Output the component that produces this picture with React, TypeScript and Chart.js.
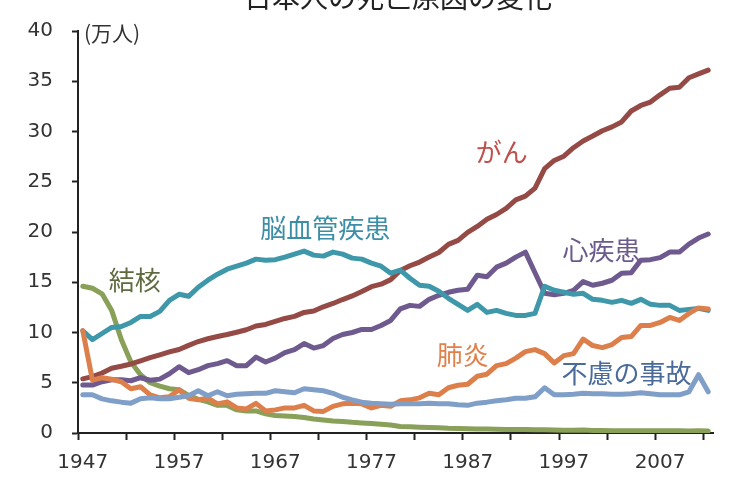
import React, { useEffect, useRef } from "react";
import { Chart, registerables } from "chart.js";

Chart.register(...registerables);

const years: string[] = [
  "1947", "1948", "1949", "1950", "1951", "1952", "1953", "1954", "1955", "1956",
  "1957", "1958", "1959", "1960", "1961", "1962", "1963", "1964", "1965", "1966",
  "1967", "1968", "1969", "1970", "1971", "1972", "1973", "1974", "1975", "1976",
  "1977", "1978", "1979", "1980", "1981", "1982", "1983", "1984", "1985", "1986",
  "1987", "1988", "1989", "1990", "1991", "1992", "1993", "1994", "1995", "1996",
  "1997", "1998", "1999", "2000", "2001", "2002", "2003", "2004", "2005", "2006",
  "2007", "2008", "2009", "2010", "2011", "2012",
];

// 万人
const cancer: number[] = [
  5.39, 5.61, 5.97, 6.44, 6.64, 6.87, 7.17, 7.49, 7.77, 8.07,
  8.31, 8.72, 9.10, 9.38, 9.60, 9.80, 10.03, 10.27, 10.65, 10.80,
  11.10, 11.40, 11.60, 12.00, 12.13, 12.56, 12.89, 13.28, 13.64, 14.08,
  14.56, 14.81, 15.26, 16.18, 16.64, 17.01, 17.51, 17.96, 18.77, 19.17,
  19.96, 20.55, 21.26, 21.74, 22.35, 23.19, 23.57, 24.37, 26.30, 27.12,
  27.54, 28.39, 29.06, 29.55, 30.07, 30.46, 30.95, 32.04, 32.59, 32.93,
  33.65, 34.30, 34.41, 35.35, 35.73, 36.10,
];

const cerebrovascular: number[] = [
  10.17, 9.3, 9.9, 10.5, 10.6, 11.0, 11.6, 11.6, 12.1, 13.2,
  13.8, 13.6, 14.5, 15.2, 15.8, 16.3, 16.6, 16.9, 17.3, 17.2,
  17.25, 17.5, 17.8, 18.1, 17.7, 17.6, 18.0, 17.8, 17.4, 17.3,
  16.9, 16.6, 15.9, 16.2, 15.4, 14.7, 14.6, 14.1, 13.4, 12.8,
  12.2, 12.8, 12.0, 12.2, 11.9, 11.7, 11.7, 11.9, 14.6, 14.2,
  14.0, 13.8, 13.9, 13.3, 13.2, 13.0, 13.2, 12.9, 13.3, 12.8,
  12.7, 12.7, 12.2, 12.3, 12.4, 12.2,
];

const tuberculosis: number[] = [
  14.6, 14.4, 13.85, 12.2, 9.3, 7.06, 5.8, 5.0, 4.67, 4.4,
  4.3, 3.75, 3.35, 3.1, 2.75, 2.75, 2.3, 2.2, 2.2, 1.9,
  1.75, 1.7, 1.65, 1.55, 1.4, 1.3, 1.2, 1.15, 1.06, 1.0,
  0.94, 0.88, 0.8, 0.65, 0.61, 0.57, 0.54, 0.52, 0.47, 0.45,
  0.43, 0.41, 0.39, 0.37, 0.36, 0.35, 0.34, 0.32, 0.32, 0.29,
  0.27, 0.28, 0.29, 0.26, 0.25, 0.23, 0.23, 0.23, 0.23, 0.22,
  0.22, 0.22, 0.22, 0.21, 0.22, 0.21,
];

const heart: number[] = [
  4.77, 4.77, 5.1, 5.3, 5.3, 5.2, 5.5, 5.25, 5.36, 5.9,
  6.6, 6.0, 6.3, 6.7, 6.9, 7.2, 6.7, 6.7, 7.55, 7.06,
  7.45, 8.0, 8.3, 8.9, 8.45, 8.7, 9.4, 9.8, 10.0, 10.3,
  10.3, 10.7, 11.2, 12.35, 12.7, 12.6, 13.3, 13.7, 14.0, 14.2,
  14.3, 15.7, 15.55, 16.5, 16.9, 17.5, 18.0, 15.95, 13.9, 13.75,
  13.9, 14.2, 15.06, 14.7, 14.9, 15.2, 15.9, 15.95, 17.2, 17.25,
  17.45, 18.0, 18.0, 18.8, 19.4, 19.8,
];

const pneumonia: number[] = [
  10.17, 5.26, 5.5, 5.35, 5.1, 4.4, 4.6, 3.8, 3.5, 3.6,
  4.3, 3.46, 3.3, 3.46, 2.9, 3.1, 2.5, 2.4, 2.95, 2.2,
  2.3, 2.5, 2.5, 2.75, 2.2, 2.15, 2.65, 2.9, 2.97, 2.9,
  2.5, 2.75, 2.65, 3.2, 3.3, 3.5, 3.95, 3.8, 4.5, 4.75,
  4.85, 5.65, 5.85, 6.7, 6.9, 7.45, 8.1, 8.3, 7.9, 6.96,
  7.7, 7.9, 9.35, 8.7, 8.5, 8.8, 9.5, 9.6, 10.7, 10.7,
  11.0, 11.5, 11.2, 11.9, 12.45, 12.35,
];

const accidents: number[] = [
  3.8, 3.8, 3.4, 3.2, 3.07, 2.97, 3.4, 3.5, 3.4, 3.4,
  3.55, 3.7, 4.2, 3.7, 4.1, 3.7, 3.85, 3.9, 3.95, 3.95,
  4.2, 4.1, 4.0, 4.4, 4.3, 4.2, 3.95, 3.56, 3.3, 3.07,
  2.97, 2.9, 2.85, 2.9, 2.9, 2.9, 2.95, 2.9, 2.9, 2.8,
  2.75, 2.97, 3.07, 3.2, 3.3, 3.45, 3.45, 3.6, 4.5, 3.8,
  3.8, 3.85, 3.95, 3.9, 3.9, 3.85, 3.85, 3.9, 4.0, 3.9,
  3.8, 3.8, 3.8, 4.1, 5.8, 4.1,
];

const yTicks: number[] = [0, 5, 10, 15, 20, 25, 30, 35, 40];

const TITLE = "日本人の死亡原因の変化";
const UNIT = "(万人)";

// series label anchors in data units (category index, value)
const seriesLabels = [
  { text: "がん", at: 43.54, value: 27.9, color: "#c0504d" },
  { text: "脳血管疾患", at: 25.2, value: 20.4, color: "#3b8ea5" },
  { text: "結核", at: 5.4, value: 15.2, color: "#5f6b3f" },
  { text: "心疾患", at: 53.9, value: 18.24, color: "#6b5a8c" },
  { text: "肺炎", at: 39.5, value: 7.75, color: "#e0804b" },
  { text: "不慮の事故", at: 56.5, value: 5.98, color: "#4a6a9a" },
];

const CJK = '"Noto Sans CJK JP", "Noto Sans", sans-serif';
const LATIN = '"DejaVu Sans", Verdana, sans-serif';

const textPlugin = {
  id: "textPlugin",
  afterDraw(chart: any) {
    const { ctx, scales } = chart;
    const xs = scales.x;
    const ys = scales.y;
    ctx.save();
    // title (partly above the visible area)
    ctx.font = `28px ${CJK}`;
    ctx.fillStyle = "#222222";
    ctx.textAlign = "center";
    ctx.textBaseline = "alphabetic";
    ctx.fillText(TITLE, 398, 8);
    // unit label
    ctx.font = `21px ${CJK}`;
    ctx.fillStyle = "#333333";
    ctx.textAlign = "left";
    ctx.textBaseline = "middle";
    ctx.fillText(UNIT, xs.left + 6, ys.getPixelForValue(40) + 2);
    // series labels
    ctx.font = `26px ${CJK}`;
    ctx.textAlign = "center";
    ctx.textBaseline = "middle";
    for (const l of seriesLabels) {
      ctx.fillStyle = l.color;
      ctx.fillText(l.text, xs.getPixelForValue(l.at), ys.getPixelForValue(l.value));
    }
    ctx.restore();
  },
};

const mk = (label: string, data: number[], color: string) => ({
  label,
  data,
  borderColor: color,
  backgroundColor: color,
  borderWidth: 5,
  pointRadius: 0,
  pointHoverRadius: 0,
  tension: 0,
  fill: false,
  borderJoinStyle: "round" as const,
  borderCapStyle: "round" as const,
});

export default function App() {
  const ref = useRef<HTMLCanvasElement | null>(null);

  useEffect(() => {
    if (!ref.current) return;
    const chart = new Chart(ref.current, {
      type: "line",
      data: {
        labels: years,
        datasets: [
          mk("不慮の事故", accidents, "#7f9fc8"),
          mk("肺炎", pneumonia, "#dd7f4a"),
          mk("脳血管疾患", cerebrovascular, "#3e98aa"),
          mk("心疾患", heart, "#6e5a8e"),
          mk("がん", cancer, "#954a45"),
          mk("結核", tuberculosis, "#88a058"),
        ],
      },
      options: {
        animation: false,
        responsive: false,
        maintainAspectRatio: false,
        layout: { padding: { top: 25, right: 20, left: 0, bottom: 0 } },
        plugins: {
          legend: { display: false },
          title: { display: false },
          tooltip: { enabled: false },
        },
        scales: {
          x: {
            type: "category",
            offset: true,
            grid: {
              offset: true,
              drawOnChartArea: false,
              drawTicks: true,
              tickLength: 7,
              tickWidth: 2,
              tickColor: (c: any) =>
                c.index !== undefined && c.index % 5 === 0 ? "#222222" : "rgba(0,0,0,0)",
            },
            border: { display: true, color: "#222222", width: 2 },
            ticks: {
              autoSkip: false,
              maxRotation: 0,
              minRotation: 0,
              padding: 11,
              color: "#333333",
              font: { family: LATIN, size: 20 },
              callback: (_v: any, i: number) => (i % 10 === 0 ? years[i] : ""),
            },
            afterFit: (s: any) => {
              s.height = 44;
            },
          },
          y: {
            min: 0,
            max: 40,
            afterBuildTicks: (s: any) => {
              s.ticks = yTicks.map((v) => ({ value: v }));
            },
            grid: {
              drawOnChartArea: false,
              drawTicks: true,
              tickLength: 6,
              tickWidth: 2,
              tickColor: "#222222",
            },
            border: { display: true, color: "#222222", width: 2 },
            ticks: {
              padding: 19,
              color: "#333333",
              font: { family: LATIN, size: 20 },
            },
            afterFit: (s: any) => {
              s.width = 78;
            },
          },
        },
      },
      plugins: [textPlugin],
    });
    return () => chart.destroy();
  }, []);

  return (
    <div style={{ position: "absolute", left: 0, top: 0, width: 733, height: 477, background: "#ffffff" }}>
      <canvas ref={ref} width={733} height={477} style={{ display: "block", width: 733, height: 477 }} />
    </div>
  );
}
